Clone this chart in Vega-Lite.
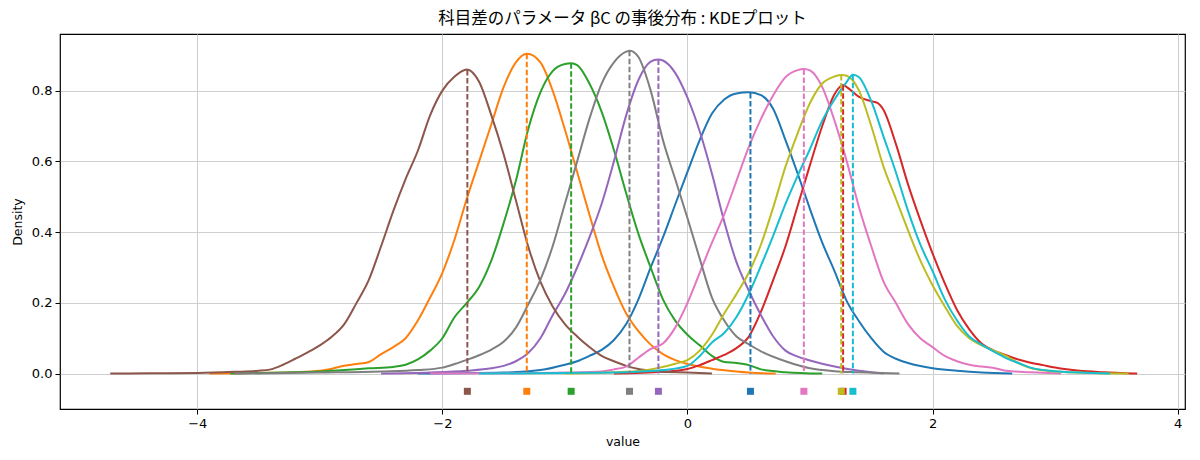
{
  "$schema": "https://vega.github.io/schema/vega-lite/v6.json",
  "description": "Posterior KDE of the subject-difference parameter beta_C, one curve per level with its mean.",
  "autosize": {"type": "none"},
  "width": 1125,
  "height": 375,
  "padding": {"left": 60, "top": 34, "right": 15, "bottom": 51},
  "background": "white",
  "title": {
    "text": "科目差のパラメータ βC の事後分布 : KDEプロット",
    "font": "Noto Sans CJK JP",
    "fontSize": 16.5,
    "fontWeight": "normal",
    "color": "black",
    "offset": 7
  },
  "datasets": {
    "kde": [
      {"g": "c0", "x": -2.2, "y": 0}, {"g": "c0", "x": -1.5, "y": 0.003}, {"g": "c0", "x": -1.2, "y": 0.01}, {"g": "c0", "x": -1.0, "y": 0.025},
      {"g": "c0", "x": -0.9, "y": 0.035}, {"g": "c0", "x": -0.8, "y": 0.05}, {"g": "c0", "x": -0.7, "y": 0.067}, {"g": "c0", "x": -0.6, "y": 0.095},
      {"g": "c0", "x": -0.5, "y": 0.14}, {"g": "c0", "x": -0.4, "y": 0.21}, {"g": "c0", "x": -0.3, "y": 0.3}, {"g": "c0", "x": -0.2, "y": 0.385},
      {"g": "c0", "x": -0.1, "y": 0.478}, {"g": "c0", "x": 0.0, "y": 0.57}, {"g": "c0", "x": 0.1, "y": 0.66}, {"g": "c0", "x": 0.2, "y": 0.735},
      {"g": "c0", "x": 0.3, "y": 0.775}, {"g": "c0", "x": 0.4, "y": 0.792}, {"g": "c0", "x": 0.5, "y": 0.795}, {"g": "c0", "x": 0.6, "y": 0.787},
      {"g": "c0", "x": 0.7, "y": 0.748}, {"g": "c0", "x": 0.8, "y": 0.66}, {"g": "c0", "x": 0.9, "y": 0.565}, {"g": "c0", "x": 1.0, "y": 0.465},
      {"g": "c0", "x": 1.1, "y": 0.37}, {"g": "c0", "x": 1.2, "y": 0.29}, {"g": "c0", "x": 1.3, "y": 0.205}, {"g": "c0", "x": 1.4, "y": 0.148},
      {"g": "c0", "x": 1.5, "y": 0.1}, {"g": "c0", "x": 1.6, "y": 0.062}, {"g": "c0", "x": 1.7, "y": 0.042}, {"g": "c0", "x": 1.8, "y": 0.03},
      {"g": "c0", "x": 2.0, "y": 0.015}, {"g": "c0", "x": 2.2, "y": 0.008}, {"g": "c0", "x": 2.4, "y": 0.003}, {"g": "c0", "x": 2.65, "y": 0},

      {"g": "c1", "x": -3.9, "y": 0}, {"g": "c1", "x": -3.5, "y": 0.002}, {"g": "c1", "x": -3.2, "y": 0.004}, {"g": "c1", "x": -3.0, "y": 0.008},
      {"g": "c1", "x": -2.9, "y": 0.014}, {"g": "c1", "x": -2.8, "y": 0.022}, {"g": "c1", "x": -2.7, "y": 0.027}, {"g": "c1", "x": -2.6, "y": 0.033},
      {"g": "c1", "x": -2.5, "y": 0.055}, {"g": "c1", "x": -2.4, "y": 0.075}, {"g": "c1", "x": -2.3, "y": 0.1}, {"g": "c1", "x": -2.2, "y": 0.15},
      {"g": "c1", "x": -2.1, "y": 0.215}, {"g": "c1", "x": -2.0, "y": 0.285}, {"g": "c1", "x": -1.9, "y": 0.38}, {"g": "c1", "x": -1.8, "y": 0.495},
      {"g": "c1", "x": -1.7, "y": 0.6}, {"g": "c1", "x": -1.6, "y": 0.705}, {"g": "c1", "x": -1.5, "y": 0.81}, {"g": "c1", "x": -1.4, "y": 0.88},
      {"g": "c1", "x": -1.31, "y": 0.904}, {"g": "c1", "x": -1.2, "y": 0.88}, {"g": "c1", "x": -1.1, "y": 0.8}, {"g": "c1", "x": -1.0, "y": 0.69},
      {"g": "c1", "x": -0.9, "y": 0.57}, {"g": "c1", "x": -0.8, "y": 0.45}, {"g": "c1", "x": -0.7, "y": 0.335}, {"g": "c1", "x": -0.6, "y": 0.245},
      {"g": "c1", "x": -0.5, "y": 0.17}, {"g": "c1", "x": -0.4, "y": 0.12}, {"g": "c1", "x": -0.3, "y": 0.082}, {"g": "c1", "x": -0.2, "y": 0.055},
      {"g": "c1", "x": -0.1, "y": 0.038}, {"g": "c1", "x": 0.0, "y": 0.027}, {"g": "c1", "x": 0.2, "y": 0.014}, {"g": "c1", "x": 0.4, "y": 0.006},
      {"g": "c1", "x": 0.5, "y": 0.003}, {"g": "c1", "x": 0.72, "y": 0},

      {"g": "c2", "x": -3.73, "y": 0}, {"g": "c2", "x": -3.3, "y": 0.003}, {"g": "c2", "x": -3.0, "y": 0.006}, {"g": "c2", "x": -2.8, "y": 0.01},
      {"g": "c2", "x": -2.6, "y": 0.015}, {"g": "c2", "x": -2.4, "y": 0.019}, {"g": "c2", "x": -2.3, "y": 0.025}, {"g": "c2", "x": -2.2, "y": 0.04},
      {"g": "c2", "x": -2.1, "y": 0.065}, {"g": "c2", "x": -2.0, "y": 0.1}, {"g": "c2", "x": -1.9, "y": 0.16}, {"g": "c2", "x": -1.8, "y": 0.2},
      {"g": "c2", "x": -1.7, "y": 0.245}, {"g": "c2", "x": -1.6, "y": 0.32}, {"g": "c2", "x": -1.5, "y": 0.425}, {"g": "c2", "x": -1.4, "y": 0.545},
      {"g": "c2", "x": -1.3, "y": 0.69}, {"g": "c2", "x": -1.2, "y": 0.795}, {"g": "c2", "x": -1.1, "y": 0.855}, {"g": "c2", "x": -1.0, "y": 0.875},
      {"g": "c2", "x": -0.95, "y": 0.877}, {"g": "c2", "x": -0.9, "y": 0.872}, {"g": "c2", "x": -0.8, "y": 0.82}, {"g": "c2", "x": -0.7, "y": 0.74},
      {"g": "c2", "x": -0.6, "y": 0.632}, {"g": "c2", "x": -0.5, "y": 0.51}, {"g": "c2", "x": -0.4, "y": 0.395}, {"g": "c2", "x": -0.3, "y": 0.3},
      {"g": "c2", "x": -0.2, "y": 0.21}, {"g": "c2", "x": -0.1, "y": 0.15}, {"g": "c2", "x": 0.0, "y": 0.11}, {"g": "c2", "x": 0.1, "y": 0.08},
      {"g": "c2", "x": 0.2, "y": 0.05}, {"g": "c2", "x": 0.3, "y": 0.033}, {"g": "c2", "x": 0.4, "y": 0.03}, {"g": "c2", "x": 0.5, "y": 0.024},
      {"g": "c2", "x": 0.6, "y": 0.012}, {"g": "c2", "x": 0.8, "y": 0.004}, {"g": "c2", "x": 1.1, "y": 0},

      {"g": "c3", "x": -0.6, "y": 0}, {"g": "c3", "x": -0.2, "y": 0.005}, {"g": "c3", "x": 0.0, "y": 0.013}, {"g": "c3", "x": 0.1, "y": 0.024},
      {"g": "c3", "x": 0.2, "y": 0.038}, {"g": "c3", "x": 0.3, "y": 0.053}, {"g": "c3", "x": 0.4, "y": 0.072}, {"g": "c3", "x": 0.5, "y": 0.104},
      {"g": "c3", "x": 0.6, "y": 0.175}, {"g": "c3", "x": 0.7, "y": 0.265}, {"g": "c3", "x": 0.8, "y": 0.36}, {"g": "c3", "x": 0.9, "y": 0.475},
      {"g": "c3", "x": 1.0, "y": 0.59}, {"g": "c3", "x": 1.1, "y": 0.7}, {"g": "c3", "x": 1.2, "y": 0.79}, {"g": "c3", "x": 1.27, "y": 0.816},
      {"g": "c3", "x": 1.3, "y": 0.81}, {"g": "c3", "x": 1.4, "y": 0.782}, {"g": "c3", "x": 1.5, "y": 0.77}, {"g": "c3", "x": 1.55, "y": 0.765},
      {"g": "c3", "x": 1.6, "y": 0.745}, {"g": "c3", "x": 1.7, "y": 0.65}, {"g": "c3", "x": 1.8, "y": 0.535}, {"g": "c3", "x": 1.9, "y": 0.434},
      {"g": "c3", "x": 2.0, "y": 0.34}, {"g": "c3", "x": 2.1, "y": 0.255}, {"g": "c3", "x": 2.2, "y": 0.18}, {"g": "c3", "x": 2.3, "y": 0.125},
      {"g": "c3", "x": 2.4, "y": 0.085}, {"g": "c3", "x": 2.5, "y": 0.065}, {"g": "c3", "x": 2.6, "y": 0.052}, {"g": "c3", "x": 2.7, "y": 0.04},
      {"g": "c3", "x": 2.8, "y": 0.031}, {"g": "c3", "x": 2.9, "y": 0.024}, {"g": "c3", "x": 3.0, "y": 0.017}, {"g": "c3", "x": 3.2, "y": 0.008},
      {"g": "c3", "x": 3.4, "y": 0.004}, {"g": "c3", "x": 3.67, "y": 0},

      {"g": "c4", "x": -2.5, "y": 0}, {"g": "c4", "x": -2.1, "y": 0.003}, {"g": "c4", "x": -1.8, "y": 0.008}, {"g": "c4", "x": -1.6, "y": 0.015},
      {"g": "c4", "x": -1.5, "y": 0.022}, {"g": "c4", "x": -1.4, "y": 0.035}, {"g": "c4", "x": -1.3, "y": 0.058}, {"g": "c4", "x": -1.2, "y": 0.1},
      {"g": "c4", "x": -1.1, "y": 0.165}, {"g": "c4", "x": -1.0, "y": 0.225}, {"g": "c4", "x": -0.9, "y": 0.3}, {"g": "c4", "x": -0.8, "y": 0.385},
      {"g": "c4", "x": -0.7, "y": 0.48}, {"g": "c4", "x": -0.6, "y": 0.6}, {"g": "c4", "x": -0.5, "y": 0.73}, {"g": "c4", "x": -0.4, "y": 0.83},
      {"g": "c4", "x": -0.3, "y": 0.882}, {"g": "c4", "x": -0.24, "y": 0.888}, {"g": "c4", "x": -0.2, "y": 0.885}, {"g": "c4", "x": -0.1, "y": 0.85},
      {"g": "c4", "x": 0.0, "y": 0.78}, {"g": "c4", "x": 0.1, "y": 0.685}, {"g": "c4", "x": 0.2, "y": 0.565}, {"g": "c4", "x": 0.3, "y": 0.43},
      {"g": "c4", "x": 0.4, "y": 0.315}, {"g": "c4", "x": 0.5, "y": 0.235}, {"g": "c4", "x": 0.6, "y": 0.165}, {"g": "c4", "x": 0.7, "y": 0.105},
      {"g": "c4", "x": 0.8, "y": 0.065}, {"g": "c4", "x": 0.9, "y": 0.048}, {"g": "c4", "x": 1.0, "y": 0.037}, {"g": "c4", "x": 1.2, "y": 0.02},
      {"g": "c4", "x": 1.4, "y": 0.008}, {"g": "c4", "x": 1.6, "y": 0},

      {"g": "c5", "x": -4.71, "y": 0}, {"g": "c5", "x": -4.4, "y": 0.001}, {"g": "c5", "x": -4.0, "y": 0.002}, {"g": "c5", "x": -3.7, "y": 0.005},
      {"g": "c5", "x": -3.5, "y": 0.008}, {"g": "c5", "x": -3.4, "y": 0.012}, {"g": "c5", "x": -3.3, "y": 0.025}, {"g": "c5", "x": -3.2, "y": 0.042},
      {"g": "c5", "x": -3.1, "y": 0.06}, {"g": "c5", "x": -3.0, "y": 0.08}, {"g": "c5", "x": -2.9, "y": 0.105}, {"g": "c5", "x": -2.8, "y": 0.14},
      {"g": "c5", "x": -2.7, "y": 0.2}, {"g": "c5", "x": -2.6, "y": 0.265}, {"g": "c5", "x": -2.5, "y": 0.36}, {"g": "c5", "x": -2.4, "y": 0.46},
      {"g": "c5", "x": -2.3, "y": 0.55}, {"g": "c5", "x": -2.2, "y": 0.63}, {"g": "c5", "x": -2.1, "y": 0.73}, {"g": "c5", "x": -2.0, "y": 0.8},
      {"g": "c5", "x": -1.9, "y": 0.84}, {"g": "c5", "x": -1.8, "y": 0.86}, {"g": "c5", "x": -1.7, "y": 0.825}, {"g": "c5", "x": -1.6, "y": 0.73},
      {"g": "c5", "x": -1.5, "y": 0.62}, {"g": "c5", "x": -1.4, "y": 0.49}, {"g": "c5", "x": -1.3, "y": 0.36}, {"g": "c5", "x": -1.2, "y": 0.26},
      {"g": "c5", "x": -1.1, "y": 0.19}, {"g": "c5", "x": -1.0, "y": 0.14}, {"g": "c5", "x": -0.9, "y": 0.105}, {"g": "c5", "x": -0.8, "y": 0.075},
      {"g": "c5", "x": -0.7, "y": 0.05}, {"g": "c5", "x": -0.6, "y": 0.035}, {"g": "c5", "x": -0.5, "y": 0.022}, {"g": "c5", "x": -0.4, "y": 0.013},
      {"g": "c5", "x": -0.3, "y": 0.008}, {"g": "c5", "x": -0.2, "y": 0.005}, {"g": "c5", "x": 0.0, "y": 0.003}, {"g": "c5", "x": 0.2, "y": 0},

      {"g": "c6", "x": -2.1, "y": 0}, {"g": "c6", "x": -1.5, "y": 0.001}, {"g": "c6", "x": -1.0, "y": 0.003}, {"g": "c6", "x": -0.7, "y": 0.006},
      {"g": "c6", "x": -0.6, "y": 0.012}, {"g": "c6", "x": -0.5, "y": 0.02}, {"g": "c6", "x": -0.4, "y": 0.045}, {"g": "c6", "x": -0.3, "y": 0.07},
      {"g": "c6", "x": -0.2, "y": 0.085}, {"g": "c6", "x": -0.1, "y": 0.13}, {"g": "c6", "x": 0.0, "y": 0.2}, {"g": "c6", "x": 0.1, "y": 0.285},
      {"g": "c6", "x": 0.2, "y": 0.37}, {"g": "c6", "x": 0.3, "y": 0.45}, {"g": "c6", "x": 0.4, "y": 0.545}, {"g": "c6", "x": 0.5, "y": 0.64},
      {"g": "c6", "x": 0.6, "y": 0.72}, {"g": "c6", "x": 0.7, "y": 0.787}, {"g": "c6", "x": 0.8, "y": 0.838}, {"g": "c6", "x": 0.9, "y": 0.858},
      {"g": "c6", "x": 0.95, "y": 0.861}, {"g": "c6", "x": 1.0, "y": 0.857}, {"g": "c6", "x": 1.1, "y": 0.81}, {"g": "c6", "x": 1.2, "y": 0.715},
      {"g": "c6", "x": 1.3, "y": 0.6}, {"g": "c6", "x": 1.4, "y": 0.47}, {"g": "c6", "x": 1.5, "y": 0.36}, {"g": "c6", "x": 1.6, "y": 0.26},
      {"g": "c6", "x": 1.7, "y": 0.2}, {"g": "c6", "x": 1.8, "y": 0.14}, {"g": "c6", "x": 1.9, "y": 0.1}, {"g": "c6", "x": 2.0, "y": 0.075},
      {"g": "c6", "x": 2.1, "y": 0.05}, {"g": "c6", "x": 2.2, "y": 0.035}, {"g": "c6", "x": 2.3, "y": 0.025}, {"g": "c6", "x": 2.4, "y": 0.02},
      {"g": "c6", "x": 2.5, "y": 0.016}, {"g": "c6", "x": 2.6, "y": 0.008}, {"g": "c6", "x": 2.8, "y": 0.004}, {"g": "c6", "x": 3.05, "y": 0},

      {"g": "c7", "x": -3.7, "y": 0}, {"g": "c7", "x": -3.0, "y": 0.003}, {"g": "c7", "x": -2.5, "y": 0.006}, {"g": "c7", "x": -2.2, "y": 0.01},
      {"g": "c7", "x": -2.0, "y": 0.017}, {"g": "c7", "x": -1.9, "y": 0.027}, {"g": "c7", "x": -1.8, "y": 0.039}, {"g": "c7", "x": -1.7, "y": 0.052},
      {"g": "c7", "x": -1.6, "y": 0.068}, {"g": "c7", "x": -1.5, "y": 0.09}, {"g": "c7", "x": -1.4, "y": 0.13}, {"g": "c7", "x": -1.3, "y": 0.195},
      {"g": "c7", "x": -1.2, "y": 0.265}, {"g": "c7", "x": -1.1, "y": 0.36}, {"g": "c7", "x": -1.0, "y": 0.48}, {"g": "c7", "x": -0.9, "y": 0.6},
      {"g": "c7", "x": -0.8, "y": 0.72}, {"g": "c7", "x": -0.7, "y": 0.82}, {"g": "c7", "x": -0.6, "y": 0.88}, {"g": "c7", "x": -0.5, "y": 0.91},
      {"g": "c7", "x": -0.47, "y": 0.913}, {"g": "c7", "x": -0.4, "y": 0.895}, {"g": "c7", "x": -0.3, "y": 0.8}, {"g": "c7", "x": -0.2, "y": 0.66},
      {"g": "c7", "x": -0.1, "y": 0.55}, {"g": "c7", "x": 0.0, "y": 0.44}, {"g": "c7", "x": 0.1, "y": 0.325}, {"g": "c7", "x": 0.2, "y": 0.215},
      {"g": "c7", "x": 0.3, "y": 0.15}, {"g": "c7", "x": 0.4, "y": 0.105}, {"g": "c7", "x": 0.5, "y": 0.083}, {"g": "c7", "x": 0.6, "y": 0.063},
      {"g": "c7", "x": 0.8, "y": 0.035}, {"g": "c7", "x": 1.0, "y": 0.015}, {"g": "c7", "x": 1.2, "y": 0.007}, {"g": "c7", "x": 1.4, "y": 0.004},
      {"g": "c7", "x": 1.73, "y": 0},

      {"g": "c8", "x": -1.0, "y": 0}, {"g": "c8", "x": -0.5, "y": 0.005}, {"g": "c8", "x": -0.3, "y": 0.012}, {"g": "c8", "x": -0.1, "y": 0.028},
      {"g": "c8", "x": 0.0, "y": 0.038}, {"g": "c8", "x": 0.1, "y": 0.065}, {"g": "c8", "x": 0.2, "y": 0.11}, {"g": "c8", "x": 0.3, "y": 0.17},
      {"g": "c8", "x": 0.4, "y": 0.225}, {"g": "c8", "x": 0.5, "y": 0.285}, {"g": "c8", "x": 0.6, "y": 0.365}, {"g": "c8", "x": 0.7, "y": 0.47},
      {"g": "c8", "x": 0.8, "y": 0.585}, {"g": "c8", "x": 0.9, "y": 0.68}, {"g": "c8", "x": 1.0, "y": 0.765}, {"g": "c8", "x": 1.1, "y": 0.82},
      {"g": "c8", "x": 1.2, "y": 0.84}, {"g": "c8", "x": 1.26, "y": 0.844}, {"g": "c8", "x": 1.3, "y": 0.842}, {"g": "c8", "x": 1.4, "y": 0.8},
      {"g": "c8", "x": 1.5, "y": 0.7}, {"g": "c8", "x": 1.6, "y": 0.585}, {"g": "c8", "x": 1.7, "y": 0.495}, {"g": "c8", "x": 1.8, "y": 0.405},
      {"g": "c8", "x": 1.9, "y": 0.32}, {"g": "c8", "x": 2.0, "y": 0.25}, {"g": "c8", "x": 2.1, "y": 0.19}, {"g": "c8", "x": 2.2, "y": 0.135},
      {"g": "c8", "x": 2.3, "y": 0.1}, {"g": "c8", "x": 2.4, "y": 0.08}, {"g": "c8", "x": 2.5, "y": 0.065}, {"g": "c8", "x": 2.6, "y": 0.05},
      {"g": "c8", "x": 2.7, "y": 0.03}, {"g": "c8", "x": 2.8, "y": 0.016}, {"g": "c8", "x": 3.0, "y": 0.006}, {"g": "c8", "x": 3.3, "y": 0.002},
      {"g": "c8", "x": 3.6, "y": 0},

      {"g": "c9", "x": -1.7, "y": 0}, {"g": "c9", "x": -1.0, "y": 0.002}, {"g": "c9", "x": -0.5, "y": 0.004}, {"g": "c9", "x": -0.2, "y": 0.01},
      {"g": "c9", "x": 0.0, "y": 0.022}, {"g": "c9", "x": 0.1, "y": 0.05}, {"g": "c9", "x": 0.2, "y": 0.088}, {"g": "c9", "x": 0.3, "y": 0.115},
      {"g": "c9", "x": 0.4, "y": 0.16}, {"g": "c9", "x": 0.5, "y": 0.225}, {"g": "c9", "x": 0.6, "y": 0.305}, {"g": "c9", "x": 0.7, "y": 0.39},
      {"g": "c9", "x": 0.8, "y": 0.48}, {"g": "c9", "x": 0.9, "y": 0.56}, {"g": "c9", "x": 1.0, "y": 0.635}, {"g": "c9", "x": 1.1, "y": 0.715},
      {"g": "c9", "x": 1.2, "y": 0.775}, {"g": "c9", "x": 1.3, "y": 0.825}, {"g": "c9", "x": 1.35, "y": 0.845}, {"g": "c9", "x": 1.4, "y": 0.838},
      {"g": "c9", "x": 1.5, "y": 0.77}, {"g": "c9", "x": 1.6, "y": 0.67}, {"g": "c9", "x": 1.7, "y": 0.57}, {"g": "c9", "x": 1.8, "y": 0.46},
      {"g": "c9", "x": 1.9, "y": 0.365}, {"g": "c9", "x": 2.0, "y": 0.29}, {"g": "c9", "x": 2.1, "y": 0.21}, {"g": "c9", "x": 2.2, "y": 0.15},
      {"g": "c9", "x": 2.3, "y": 0.105}, {"g": "c9", "x": 2.4, "y": 0.082}, {"g": "c9", "x": 2.5, "y": 0.062}, {"g": "c9", "x": 2.6, "y": 0.044},
      {"g": "c9", "x": 2.7, "y": 0.03}, {"g": "c9", "x": 2.8, "y": 0.017}, {"g": "c9", "x": 3.0, "y": 0.007}, {"g": "c9", "x": 3.2, "y": 0.003},
      {"g": "c9", "x": 3.45, "y": 0}
    ],
    "means": [
      {"g": "c0", "mean": 0.514, "peak": 0.793},
      {"g": "c1", "mean": -1.311, "peak": 0.904},
      {"g": "c2", "mean": -0.949, "peak": 0.877},
      {"g": "c3", "mean": 1.27, "peak": 0.815},
      {"g": "c4", "mean": -0.237, "peak": 0.888},
      {"g": "c5", "mean": -1.796, "peak": 0.858},
      {"g": "c6", "mean": 0.95, "peak": 0.86},
      {"g": "c7", "mean": -0.473, "peak": 0.913},
      {"g": "c8", "mean": 1.255, "peak": 0.844},
      {"g": "c9", "mean": 1.35, "peak": 0.845}
    ]
  },
  "layer": [
    {
      "data": {"name": "kde"},
      "mark": {"type": "line", "strokeWidth": 2, "interpolate": "monotone", "clip": true},
      "encoding": {
        "x": {
          "field": "x", "type": "quantitative",
          "scale": {"domain": [-5.12, 4.06], "nice": false, "zero": false},
          "axis": {"title": "value", "values": [-4, -2, 0, 2, 4], "format": "d"}
        },
        "y": {
          "field": "y", "type": "quantitative",
          "scale": {"domain": [-0.1, 0.96], "nice": false, "zero": false},
          "axis": {"title": "Density", "values": [0, 0.2, 0.4, 0.6, 0.8], "format": ".1f"}
        },
        "color": {
          "field": "g", "type": "nominal", "legend": null,
          "scale": {
            "domain": ["c0", "c1", "c2", "c3", "c4", "c5", "c6", "c7", "c8", "c9"],
            "range": ["#1f77b4", "#ff7f0e", "#2ca02c", "#d62728", "#9467bd", "#8c564b", "#e377c2", "#7f7f7f", "#bcbd22", "#17becf"]
          }
        }
      }
    },
    {
      "data": {"name": "means"},
      "mark": {"type": "rule", "strokeWidth": 2, "strokeDash": [5.5, 2.5]},
      "encoding": {
        "x": {"field": "mean", "type": "quantitative"},
        "y": {"field": "peak", "type": "quantitative"},
        "y2": {"datum": 0},
        "color": {"field": "g", "type": "nominal", "legend": null}
      }
    },
    {
      "data": {"name": "means"},
      "mark": {"type": "point", "shape": "square", "filled": true, "opacity": 1, "size": 49},
      "encoding": {
        "x": {"field": "mean", "type": "quantitative"},
        "y": {"datum": -0.05, "type": "quantitative"},
        "color": {"field": "g", "type": "nominal", "legend": null}
      }
    }
  ],
  "config": {
    "view": {"stroke": "black", "strokeWidth": 1.2},
    "axis": {
      "domain": false,
      "grid": true,
      "gridColor": "#cfcfcf",
      "gridWidth": 1,
      "tickColor": "black",
      "tickSize": 5,
      "tickWidth": 1,
      "labelFont": "DejaVu Sans",
      "labelFontSize": 13,
      "labelColor": "black",
      "labelPadding": 3,
      "titleFont": "DejaVu Sans",
      "titleFontSize": 12.5,
      "titleFontWeight": "normal",
      "titleColor": "black"
    },
    "axisX": {"titlePadding": 5},
    "axisY": {"titlePadding": 7}
  }
}
